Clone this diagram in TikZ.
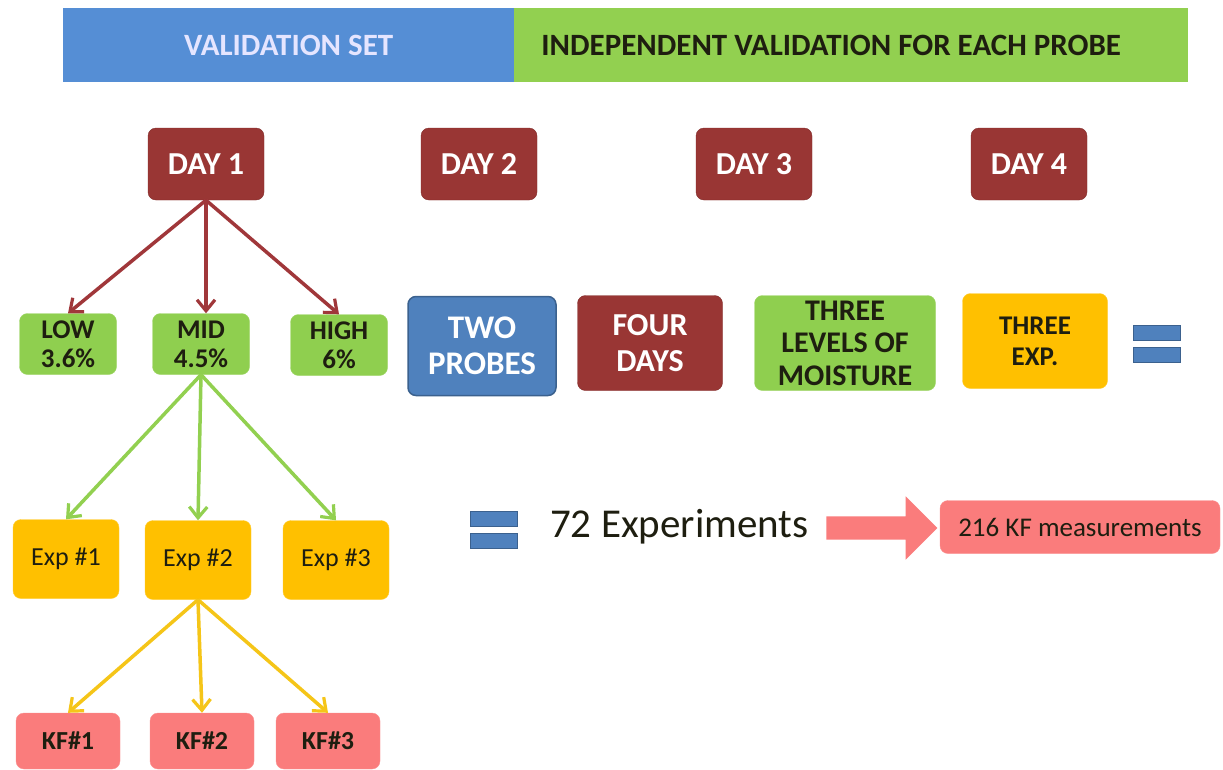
\documentclass[tikz,border=0pt]{standalone}
\usepackage{fontspec}
\setmainfont{Carlito}
\usetikzlibrary{arrows.meta,shapes.arrows}
\definecolor{bannerblue}{HTML}{558ED5}
\definecolor{bannergreen}{HTML}{92D050}
\definecolor{dayred}{HTML}{993634}
\definecolor{lvlgreen}{HTML}{8FCF4F}
\definecolor{probeblue}{HTML}{4F81BD}
\definecolor{expgold}{HTML}{FFC000}
\definecolor{kfpink}{HTML}{FA7C7C}
\definecolor{arrred}{HTML}{A0373A}
\definecolor{arrgreen}{HTML}{92D050}
\definecolor{arrgold}{HTML}{F5C518}
\definecolor{txtdark}{HTML}{1E1E10}
\tikzset{
  x=1pt, y=-1pt,
  box/.style={rounded corners=8pt, align=center, inner sep=0pt, font=\bfseries},
  daybox/.style={box, fill=dayred, draw=dayred!85!black, text=white,
    minimum width=116pt, minimum height=72pt, font=\fontsize{32}{36}\selectfont\bfseries},
  lvlbox/.style={box, fill=lvlgreen, draw=lvlgreen!85!white, text=txtdark,
    minimum width=97pt, minimum height=61pt, font=\fontsize{27}{29}\selectfont\bfseries},
  expbox/.style={box, fill=expgold, draw=expgold!80!white, text=txtdark,
    minimum width=106pt, minimum height=79pt, font=\fontsize{26}{28}\selectfont},
  kfbox/.style={box, fill=kfpink, draw=kfpink!85!white, text=txtdark,
    minimum width=104pt, minimum height=56pt, font=\fontsize{26}{28}\selectfont\bfseries},
  factbox/.style={box, minimum height=95pt},
  banner/.style={inner sep=0pt, anchor=north west, font=\fontsize{31}{34}\selectfont\bfseries},
  link/.style={line width=3.5pt, -{Straight Barb[length=11pt,width=18pt,line width=3.2pt]}},
  eqbar/.style={fill=probeblue, draw=probeblue!75!black, line width=0.8pt, minimum width=47pt, minimum height=15pt, inner sep=0pt},
}
\begin{document}
\begin{tikzpicture}
\useasboundingbox (0,0) rectangle (1223,769);
\fill[white] (0,0) rectangle (1223,769);

% header banners
\node[banner, fill=bannerblue, minimum width=451pt, minimum height=74pt, text=white!90!blue] (vset) at (63,8) {VALIDATION SET};
\node[banner, fill=bannergreen, minimum width=674pt, minimum height=74pt, text=txtdark] (indep) at (514,8) {\hspace*{-40pt}INDEPENDENT VALIDATION FOR EACH PROBE};

% days
\node[daybox] (d1) at (206,164) {DAY 1};
\node[daybox] (d2) at (479,164) {DAY 2};
\node[daybox] (d3) at (754,164) {DAY 3};
\node[daybox] (d4) at (1029,164) {DAY 4};

% moisture levels
\node[lvlbox] (low) at (68,344) {LOW\\3.6\%};
\node[lvlbox] (mid) at (201,344) {MID\\4.5\%};
\node[lvlbox] (high) at (339,345) {HIGH\\6\%};

% factors
\node[factbox, fill=probeblue, draw=probeblue!75!black, line width=1.5pt, text=white, minimum width=148pt, minimum height=99pt, font=\fontsize{33}{36}\selectfont\bfseries] (probes) at (482,346) {TWO\\PROBES};
\node[factbox, fill=dayred, draw=dayred!85!black, text=white, minimum width=145pt, font=\fontsize{32}{36}\selectfont\bfseries] (fdays) at (650,343) {FOUR\\DAYS};
\node[factbox, fill=lvlgreen, draw=lvlgreen!85!white, text=txtdark, minimum width=181pt, font=\fontsize{30}{32.5}\selectfont\bfseries] (levels) at (845,343) {THREE\\LEVELS OF\\MOISTURE};
\node[factbox, fill=expgold, draw=expgold!80!white, text=txtdark, minimum width=145pt, font=\fontsize{27}{31}\selectfont\bfseries] (threeexp) at (1035,341) {THREE\\EXP.};
\node[eqbar] (eqa1) at (1157,333) {};
\node[eqbar] (eqa2) at (1157,355) {};

% experiments
\node[expbox] (e1) at (66,559) {Exp \#1};
\node[expbox] (e2) at (198,560) {Exp \#2};
\node[expbox] (e3) at (336,560) {Exp \#3};

% totals
\node[eqbar] (eqb1) at (494,519) {};
\node[eqbar] (eqb2) at (494,541) {};
\node[anchor=west, inner sep=0pt, font=\fontsize{41}{44}\selectfont, text=txtdark] (total) at (550,527) {72 Experiments};
\node[single arrow, fill=kfpink, draw=none, inner sep=11.5pt, minimum height=111pt, single arrow head extend=20pt] (bigarrow) at (876,528) {};
\node[box, fill=kfpink, draw=kfpink!85!white, text=txtdark, minimum width=280pt, minimum height=53pt, font=\fontsize{27}{30}\selectfont] (kftotal) at (1080,527) {216 KF measurements};

% KF measurements
\node[kfbox] (k1) at (68,741) {KF\#1};
\node[kfbox] (k2) at (202,741) {KF\#2};
\node[kfbox] (k3) at (328,741) {KF\#3};

% tree connectors
\draw[link, arrred] (d1.south) -- (low.north);
\draw[link, arrred] (d1.south) -- (mid.north -| d1.south);
\draw[link, arrred] (d1.south) -- (high.north);
\draw[link, arrgreen] (mid.south) -- (e1.north);
\draw[link, arrgreen] (mid.south) -- (e2.north);
\draw[link, arrgreen] (mid.south) -- (e3.north);
\draw[link, arrgold] (e2.south) -- (k1.north);
\draw[link, arrgold] (e2.south) -- (k2.north);
\draw[link, arrgold] (e2.south) -- (k3.north);
\end{tikzpicture}
\end{document}
